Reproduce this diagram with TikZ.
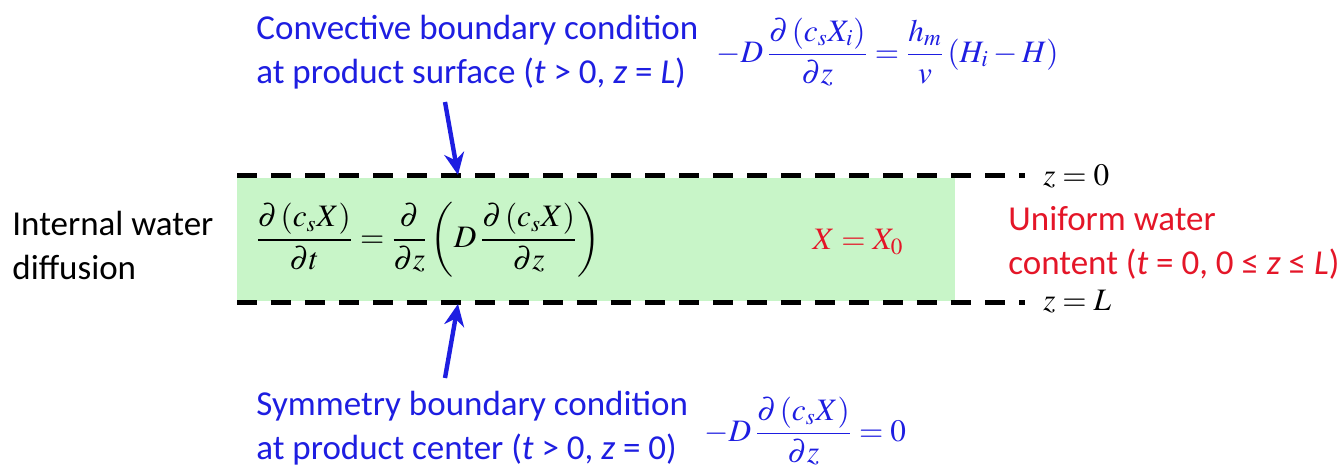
\documentclass[tikz,border=0pt]{standalone}
\usepackage{mathptmx}
\usepackage{fontspec}
\setmainfont{Carlito}
\usepackage{xcolor}
\usepackage{tikz}
\usetikzlibrary{arrows.meta}

\begin{document}
\begin{tikzpicture}[x=0.5pt,y=-0.5pt]
  \definecolor{dblue}{RGB}{30,30,225}
  \definecolor{dred}{RGB}{228,22,40}
  \definecolor{lgreen}{RGB}{200,245,200}
  \tikzset{
    txt/.style={inner sep=0pt,align=left,font=\fontsize{17.5}{22}\selectfont},
    eqn/.style={inner sep=0pt,font=\fontsize{15.6}{18}\selectfont},
    bound/.style={line width=2.5pt,dash pattern=on 10pt off 7pt},
    bcarrow/.style={-{Stealth[length=11pt,width=10pt]},line width=2.2pt,dblue},
  }
  \useasboundingbox (0,0) rectangle (1343,469);
  % product slab
  \fill[lgreen] (237,178) rectangle (955,301);
  \draw[bound] (237,176) -- (1025,176);
  \draw[bound] (237,303) -- (1025,303);
  \node[eqn,anchor=west] (ztop) at (1043,176) {$z=0$};
  \node[eqn,anchor=west] (zbot) at (1043,302) {$z=L$};
  % governing equation and initial condition
  \node[eqn] (diffeq) at (428,240)
    {$\displaystyle\frac{\partial\left(c_s X\right)}{\partial t}=\frac{\partial}{\partial z}\left(D\,\frac{\partial\left(c_s X\right)}{\partial z}\right)$};
  \node[eqn,text=dred] (initeq) at (858,242) {$X=X_0$};
  \node[txt,anchor=west] (difftext) at (12,245) {Internal water\\diffusion};
  \node[txt,anchor=west,text=dred] (unitext) at (1008,243)
    {Uniform water\\content (\textit{t} = 0, 0 ≤ \textit{z} ≤ \textit{L})};
  % boundary conditions
  \node[txt,anchor=west,text=dblue] (convtext) at (256,52)
    {Convective boundary condition\\at product surface (\textit{t} > 0, \textit{z} = \textit{L})};
  \node[eqn,anchor=west,text=dblue] (conveq) at (716,52)
    {$\displaystyle -D\,\frac{\partial\left(c_s X_i\right)}{\partial z}=\frac{h_m}{v}\left(H_i-H\right)$};
  \node[txt,anchor=west,text=dblue] (symtext) at (256,428)
    {Symmetry boundary condition\\at product center (\textit{t} > 0, \textit{z} = 0)};
  \node[eqn,anchor=west,text=dblue] (symeq) at (704,431)
    {$\displaystyle -D\,\frac{\partial\left(c_s X\right)}{\partial z}=0$};
  \coordinate (convtail) at (445,102);
  \coordinate (convtip) at (458,175);
  \coordinate (symtail) at (445,378);
  \coordinate (symtip) at (458,304);
  \draw[bcarrow] (convtail) -- (convtip);
  \draw[bcarrow] (symtail) -- (symtip);
\end{tikzpicture}
\end{document}
